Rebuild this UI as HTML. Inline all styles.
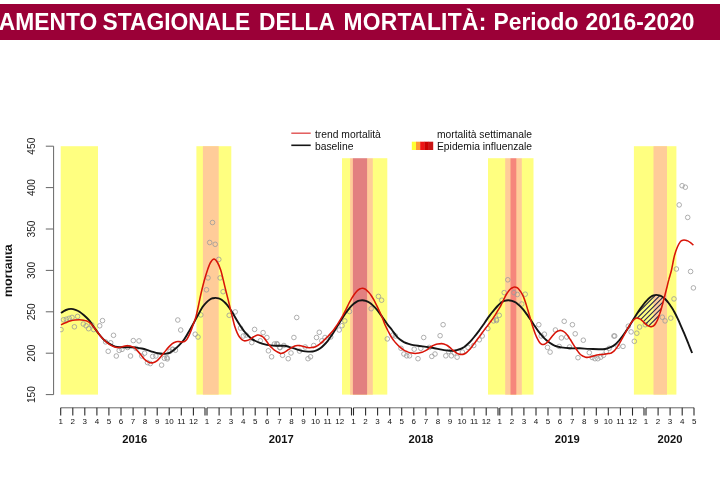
<!DOCTYPE html>
<html lang="it"><head><meta charset="utf-8"><title>Andamento stagionale della mortalità</title>
<style>
html,body{margin:0;padding:0;background:#fff}
body{width:720px;height:477px;position:relative;overflow:hidden;font-family:"Liberation Sans",Arial,sans-serif}
.banner{position:absolute;left:0;top:4.4px;width:720px;height:35.2px;background:#9b0037}
.banner span{position:absolute;top:0;line-height:35.2px;font-size:22.8px;font-weight:bold;color:#fff;white-space:nowrap;transform:scaleY(1.07);transform-origin:50% 50%}
</style></head><body>
<div class="banner">
<span style="left:-1.2px">AMENTO</span>
<span style="left:102.5px">STAGIONALE</span>
<span style="left:259px">DELLA</span>
<span style="left:343.5px;letter-spacing:0.3px">MORTALITÀ:</span>
<span style="left:493.5px">Periodo</span>
<span style="left:585.5px">2016-2020</span>
</div>
<svg width="720" height="477" viewBox="0 0 720 477" style="position:absolute;left:0;top:0">
<rect x="60.7" y="146.2" width="37.3" height="248.4" fill="#ffff80"/>
<rect x="196.4" y="146.2" width="34.9" height="248.4" fill="#ffff80"/>
<rect x="202.9" y="146.2" width="15.8" height="248.4" fill="#ffcc99"/>
<rect x="342.0" y="146.2" width="45.3" height="248.4" fill="#ffff80"/>
<rect x="350.1" y="146.2" width="22.7" height="248.4" fill="#ffcc99"/>
<rect x="352.9" y="146.2" width="14.2" height="248.4" fill="#e28080"/>
<rect x="488.0" y="146.2" width="45.5" height="248.4" fill="#ffff80"/>
<rect x="505.2" y="146.2" width="16.6" height="248.4" fill="#ffcc99"/>
<rect x="510.5" y="146.2" width="5.8" height="248.4" fill="#f6867c"/>
<rect x="633.9" y="146.2" width="42.5" height="248.4" fill="#ffff80"/>
<rect x="653.5" y="146.2" width="13.5" height="248.4" fill="#ffcc99"/>
<rect x="285.0" y="124.0" width="255.0" height="34.2" fill="#ffffff"/>
<defs><clipPath id="pc"><rect x="60.2" y="140" width="650" height="260"/></clipPath></defs>
<g fill="none" stroke="#9a9a9a" stroke-width="0.8" clip-path="url(#pc)">
<circle cx="61.0" cy="329.6" r="2.3"/>
<circle cx="63.5" cy="319.8" r="2.3"/>
<circle cx="66.3" cy="319.2" r="2.3"/>
<circle cx="69.2" cy="318.3" r="2.3"/>
<circle cx="72.0" cy="317.4" r="2.3"/>
<circle cx="77.6" cy="316.4" r="2.3"/>
<circle cx="74.4" cy="326.8" r="2.3"/>
<circle cx="83.3" cy="324.0" r="2.3"/>
<circle cx="86.1" cy="325.8" r="2.3"/>
<circle cx="88.6" cy="328.7" r="2.3"/>
<circle cx="91.8" cy="324.9" r="2.3"/>
<circle cx="93.7" cy="329.6" r="2.3"/>
<circle cx="99.7" cy="325.8" r="2.3"/>
<circle cx="102.5" cy="320.6" r="2.3"/>
<circle cx="105.6" cy="341.9" r="2.3"/>
<circle cx="113.5" cy="335.3" r="2.3"/>
<circle cx="110.7" cy="342.8" r="2.3"/>
<circle cx="108.2" cy="351.3" r="2.3"/>
<circle cx="116.3" cy="356.0" r="2.3"/>
<circle cx="119.2" cy="350.4" r="2.3"/>
<circle cx="122.0" cy="349.4" r="2.3"/>
<circle cx="127.6" cy="347.5" r="2.3"/>
<circle cx="130.5" cy="356.0" r="2.3"/>
<circle cx="133.3" cy="340.6" r="2.3"/>
<circle cx="139.0" cy="340.9" r="2.3"/>
<circle cx="136.1" cy="348.5" r="2.3"/>
<circle cx="141.8" cy="356.0" r="2.3"/>
<circle cx="144.6" cy="353.2" r="2.3"/>
<circle cx="147.5" cy="362.6" r="2.3"/>
<circle cx="150.3" cy="363.6" r="2.3"/>
<circle cx="152.7" cy="356.4" r="2.3"/>
<circle cx="155.9" cy="356.0" r="2.3"/>
<circle cx="161.6" cy="365.1" r="2.3"/>
<circle cx="164.4" cy="358.3" r="2.3"/>
<circle cx="167.3" cy="358.9" r="2.3"/>
<circle cx="170.1" cy="351.3" r="2.3"/>
<circle cx="172.9" cy="349.4" r="2.3"/>
<circle cx="212.5" cy="222.5" r="2.3"/>
<circle cx="209.7" cy="242.5" r="2.3"/>
<circle cx="215.2" cy="244.3" r="2.3"/>
<circle cx="218.8" cy="259.4" r="2.3"/>
<circle cx="166.9" cy="357.7" r="2.3"/>
<circle cx="172.5" cy="349.2" r="2.3"/>
<circle cx="175.4" cy="350.2" r="2.3"/>
<circle cx="177.8" cy="320.0" r="2.3"/>
<circle cx="180.7" cy="330.0" r="2.3"/>
<circle cx="195.2" cy="334.2" r="2.3"/>
<circle cx="198.0" cy="337.0" r="2.3"/>
<circle cx="200.8" cy="314.9" r="2.3"/>
<circle cx="206.5" cy="289.8" r="2.3"/>
<circle cx="208.0" cy="277.9" r="2.3"/>
<circle cx="220.1" cy="277.9" r="2.3"/>
<circle cx="223.1" cy="291.7" r="2.3"/>
<circle cx="229.2" cy="315.3" r="2.3"/>
<circle cx="235.2" cy="311.9" r="2.3"/>
<circle cx="240.5" cy="328.1" r="2.3"/>
<circle cx="243.3" cy="336.0" r="2.3"/>
<circle cx="246.1" cy="335.1" r="2.3"/>
<circle cx="251.8" cy="342.6" r="2.3"/>
<circle cx="254.6" cy="329.4" r="2.3"/>
<circle cx="260.3" cy="340.8" r="2.3"/>
<circle cx="263.1" cy="332.6" r="2.3"/>
<circle cx="266.9" cy="337.5" r="2.3"/>
<circle cx="268.4" cy="350.8" r="2.3"/>
<circle cx="271.6" cy="356.8" r="2.3"/>
<circle cx="274.4" cy="344.0" r="2.3"/>
<circle cx="277.3" cy="344.5" r="2.3"/>
<circle cx="280.1" cy="347.7" r="2.3"/>
<circle cx="283.9" cy="345.5" r="2.3"/>
<circle cx="279.7" cy="347.4" r="2.3"/>
<circle cx="276.9" cy="343.6" r="2.3"/>
<circle cx="282.5" cy="355.3" r="2.3"/>
<circle cx="288.2" cy="358.7" r="2.3"/>
<circle cx="291.0" cy="353.0" r="2.3"/>
<circle cx="293.9" cy="337.5" r="2.3"/>
<circle cx="296.7" cy="317.5" r="2.3"/>
<circle cx="299.5" cy="351.1" r="2.3"/>
<circle cx="305.2" cy="347.0" r="2.3"/>
<circle cx="308.0" cy="358.7" r="2.3"/>
<circle cx="310.5" cy="356.8" r="2.3"/>
<circle cx="313.7" cy="345.5" r="2.3"/>
<circle cx="316.5" cy="337.5" r="2.3"/>
<circle cx="319.3" cy="332.3" r="2.3"/>
<circle cx="321.8" cy="340.8" r="2.3"/>
<circle cx="325.0" cy="337.5" r="2.3"/>
<circle cx="330.7" cy="337.0" r="2.3"/>
<circle cx="339.2" cy="330.0" r="2.3"/>
<circle cx="342.0" cy="325.7" r="2.3"/>
<circle cx="344.8" cy="320.9" r="2.3"/>
<circle cx="349.5" cy="311.5" r="2.3"/>
<circle cx="371.2" cy="308.7" r="2.3"/>
<circle cx="378.4" cy="296.4" r="2.3"/>
<circle cx="381.6" cy="300.2" r="2.3"/>
<circle cx="387.3" cy="338.9" r="2.3"/>
<circle cx="392.9" cy="335.1" r="2.3"/>
<circle cx="395.4" cy="336.0" r="2.3"/>
<circle cx="401.0" cy="348.3" r="2.3"/>
<circle cx="403.9" cy="354.0" r="2.3"/>
<circle cx="406.7" cy="355.8" r="2.3"/>
<circle cx="409.5" cy="355.8" r="2.3"/>
<circle cx="414.2" cy="349.2" r="2.3"/>
<circle cx="418.0" cy="358.7" r="2.3"/>
<circle cx="420.8" cy="348.3" r="2.3"/>
<circle cx="423.7" cy="337.5" r="2.3"/>
<circle cx="429.3" cy="347.4" r="2.3"/>
<circle cx="431.8" cy="356.4" r="2.3"/>
<circle cx="435.0" cy="354.0" r="2.3"/>
<circle cx="440.1" cy="335.7" r="2.3"/>
<circle cx="443.1" cy="324.7" r="2.3"/>
<circle cx="445.8" cy="355.8" r="2.3"/>
<circle cx="448.6" cy="351.5" r="2.3"/>
<circle cx="451.4" cy="355.8" r="2.3"/>
<circle cx="454.2" cy="353.0" r="2.3"/>
<circle cx="457.1" cy="357.2" r="2.3"/>
<circle cx="462.4" cy="352.1" r="2.3"/>
<circle cx="468.0" cy="347.4" r="2.3"/>
<circle cx="473.7" cy="345.5" r="2.3"/>
<circle cx="479.3" cy="339.8" r="2.3"/>
<circle cx="482.2" cy="336.0" r="2.3"/>
<circle cx="487.8" cy="328.5" r="2.3"/>
<circle cx="493.5" cy="320.9" r="2.3"/>
<circle cx="496.3" cy="319.4" r="2.3"/>
<circle cx="499.2" cy="315.3" r="2.3"/>
<circle cx="502.0" cy="300.2" r="2.3"/>
<circle cx="504.2" cy="292.6" r="2.3"/>
<circle cx="496.5" cy="320.6" r="2.3"/>
<circle cx="507.8" cy="279.8" r="2.3"/>
<circle cx="513.9" cy="292.6" r="2.3"/>
<circle cx="517.3" cy="294.5" r="2.3"/>
<circle cx="521.8" cy="304.0" r="2.3"/>
<circle cx="525.2" cy="294.2" r="2.3"/>
<circle cx="538.8" cy="324.7" r="2.3"/>
<circle cx="541.2" cy="336.0" r="2.3"/>
<circle cx="544.4" cy="334.2" r="2.3"/>
<circle cx="547.5" cy="347.4" r="2.3"/>
<circle cx="550.1" cy="352.1" r="2.3"/>
<circle cx="555.4" cy="330.0" r="2.3"/>
<circle cx="559.2" cy="346.4" r="2.3"/>
<circle cx="561.4" cy="337.9" r="2.3"/>
<circle cx="564.2" cy="321.3" r="2.3"/>
<circle cx="566.7" cy="337.0" r="2.3"/>
<circle cx="569.5" cy="347.0" r="2.3"/>
<circle cx="572.4" cy="324.7" r="2.3"/>
<circle cx="575.2" cy="333.8" r="2.3"/>
<circle cx="578.0" cy="357.7" r="2.3"/>
<circle cx="583.3" cy="340.2" r="2.3"/>
<circle cx="589.3" cy="352.6" r="2.3"/>
<circle cx="592.2" cy="357.5" r="2.3"/>
<circle cx="595.0" cy="358.7" r="2.3"/>
<circle cx="597.8" cy="358.7" r="2.3"/>
<circle cx="600.7" cy="357.2" r="2.3"/>
<circle cx="603.5" cy="355.3" r="2.3"/>
<circle cx="609.2" cy="348.3" r="2.3"/>
<circle cx="613.9" cy="336.0" r="2.3"/>
<circle cx="606.3" cy="351.5" r="2.3"/>
<circle cx="614.7" cy="336.0" r="2.3"/>
<circle cx="617.9" cy="346.4" r="2.3"/>
<circle cx="623.0" cy="346.4" r="2.3"/>
<circle cx="628.3" cy="326.2" r="2.3"/>
<circle cx="631.1" cy="331.9" r="2.3"/>
<circle cx="634.3" cy="341.3" r="2.3"/>
<circle cx="636.8" cy="333.2" r="2.3"/>
<circle cx="639.6" cy="327.0" r="2.3"/>
<circle cx="645.3" cy="324.7" r="2.3"/>
<circle cx="665.1" cy="320.9" r="2.3"/>
<circle cx="662.3" cy="317.2" r="2.3"/>
<circle cx="670.8" cy="318.1" r="2.3"/>
<circle cx="674.0" cy="298.9" r="2.3"/>
<circle cx="676.4" cy="269.0" r="2.3"/>
<circle cx="690.6" cy="271.5" r="2.3"/>
<circle cx="693.4" cy="287.9" r="2.3"/>
<circle cx="682.1" cy="185.7" r="2.3"/>
<circle cx="685.3" cy="187.2" r="2.3"/>
<circle cx="679.2" cy="204.9" r="2.3"/>
<circle cx="687.7" cy="217.4" r="2.3"/>
</g>
<defs><clipPath id="hc"><polygon points="636.8,314.0 637.3,313.1 637.8,312.4 638.3,311.6 638.8,310.9 639.3,310.2 639.8,309.5 640.3,308.7 640.8,308.0 641.3,307.3 641.8,306.6 642.3,306.0 642.8,305.3 643.3,304.7 643.8,304.0 644.3,303.4 644.8,302.7 645.3,302.1 645.8,301.6 646.3,301.1 646.8,300.5 647.3,300.0 647.8,299.5 648.3,299.0 648.8,298.6 649.3,298.2 649.8,297.7 650.3,297.3 650.8,296.9 651.3,296.6 651.8,296.3 652.3,296.1 652.8,295.8 653.3,295.6 653.8,295.4 654.3,295.3 654.8,295.2 655.3,295.1 655.8,295.0 656.3,294.9 656.8,295.0 657.3,295.1 657.8,295.2 658.3,295.2 658.8,295.3 659.3,295.4 659.8,295.7 660.3,295.9 660.8,296.1 661.3,296.3 661.8,296.6 662.3,296.8 662.8,297.2 663.3,297.6 663.8,298.0 664.3,298.4 664.3,297.6 663.8,299.5 663.3,301.4 662.8,303.3 662.3,305.1 661.8,306.9 661.3,308.7 660.8,310.3 660.3,311.9 659.8,313.5 659.3,315.1 658.8,316.4 658.3,317.8 657.8,319.2 657.3,320.4 656.8,321.3 656.3,322.2 655.8,323.1 655.3,323.9 654.8,324.5 654.3,325.1 653.8,325.7 653.3,325.9 652.8,326.2 652.3,326.4 651.8,326.6 651.3,326.6 650.8,326.6 650.3,326.6 649.8,326.5 649.3,326.3 648.8,326.1 648.3,325.9 647.8,325.7 647.3,325.4 646.8,325.0 646.3,324.6 645.8,324.2 645.3,323.8 644.8,323.3 644.3,322.8 643.8,322.3 643.3,321.8 642.8,321.3 642.3,320.9 641.8,320.4 641.3,320.0 640.8,319.6 640.3,319.2 639.8,319.0 639.3,318.7 638.8,318.5 638.3,318.3 637.8,318.3 637.3,318.2 636.8,318.1"/></clipPath></defs>
<g clip-path="url(#hc)" stroke="#26264e" stroke-width="1.1">
<line x1="630.0" y1="311.0" x2="670.0" y2="271.0"/>
<line x1="630.0" y1="315.8" x2="670.0" y2="275.8"/>
<line x1="630.0" y1="320.6" x2="670.0" y2="280.6"/>
<line x1="630.0" y1="325.4" x2="670.0" y2="285.4"/>
<line x1="630.0" y1="330.2" x2="670.0" y2="290.2"/>
<line x1="630.0" y1="335.0" x2="670.0" y2="295.0"/>
<line x1="630.0" y1="339.8" x2="670.0" y2="299.8"/>
<line x1="630.0" y1="344.6" x2="670.0" y2="304.6"/>
<line x1="630.0" y1="349.4" x2="670.0" y2="309.4"/>
<line x1="630.0" y1="354.2" x2="670.0" y2="314.2"/>
<line x1="630.0" y1="359.0" x2="670.0" y2="319.0"/>
<line x1="630.0" y1="363.8" x2="670.0" y2="323.8"/>
<line x1="630.0" y1="368.6" x2="670.0" y2="328.6"/>
<line x1="630.0" y1="373.4" x2="670.0" y2="333.4"/>
<line x1="630.0" y1="378.2" x2="670.0" y2="338.2"/>
<line x1="630.0" y1="383.0" x2="670.0" y2="343.0"/>
<line x1="630.0" y1="387.8" x2="670.0" y2="347.8"/>
<line x1="630.0" y1="392.6" x2="670.0" y2="352.6"/>
<line x1="630.0" y1="397.4" x2="670.0" y2="357.4"/>
<line x1="630.0" y1="402.2" x2="670.0" y2="362.2"/>
<line x1="630.0" y1="407.0" x2="670.0" y2="367.0"/>
<line x1="630.0" y1="411.8" x2="670.0" y2="371.8"/>
<line x1="630.0" y1="416.6" x2="670.0" y2="376.6"/>
<line x1="630.0" y1="421.4" x2="670.0" y2="381.4"/>
<line x1="630.0" y1="426.2" x2="670.0" y2="386.2"/>
<line x1="630.0" y1="431.0" x2="670.0" y2="391.0"/>
<line x1="630.0" y1="435.8" x2="670.0" y2="395.8"/>
<line x1="630.0" y1="440.6" x2="670.0" y2="400.6"/>
<line x1="630.0" y1="445.4" x2="670.0" y2="405.4"/>
<line x1="630.0" y1="450.2" x2="670.0" y2="410.2"/>
<line x1="630.0" y1="455.0" x2="670.0" y2="415.0"/>
<line x1="630.0" y1="459.8" x2="670.0" y2="419.8"/>
<line x1="630.0" y1="464.6" x2="670.0" y2="424.6"/>
<line x1="630.0" y1="469.4" x2="670.0" y2="429.4"/>
<line x1="630.0" y1="474.2" x2="670.0" y2="434.2"/>
<line x1="630.0" y1="479.0" x2="670.0" y2="439.0"/>
<line x1="630.0" y1="483.8" x2="670.0" y2="443.8"/>
<line x1="630.0" y1="488.6" x2="670.0" y2="448.6"/>
<line x1="630.0" y1="493.4" x2="670.0" y2="453.4"/>
<line x1="630.0" y1="498.2" x2="670.0" y2="458.2"/>
</g>
<path d="M61.0 313.0C61.8 312.5 64.3 310.7 66.0 310.0C67.7 309.3 69.4 308.9 71.0 308.9C72.6 308.9 74.1 309.3 75.5 309.8C76.9 310.3 78.1 310.8 79.5 311.7C80.9 312.6 82.4 313.9 84.0 315.3C85.6 316.7 87.4 318.3 89.0 320.2C90.6 322.1 91.9 324.3 93.5 326.5C95.1 328.7 96.8 331.3 98.4 333.4C100.0 335.4 101.4 337.2 103.0 338.8C104.6 340.4 106.2 341.7 107.8 342.8C109.4 343.9 110.9 344.7 112.5 345.4C114.1 346.1 115.4 346.7 117.3 347.0C119.2 347.3 121.8 347.3 124.0 347.3C126.2 347.3 128.5 347.1 130.5 347.2C132.5 347.2 134.1 347.4 136.0 347.6C137.9 347.8 139.9 348.1 141.8 348.5C143.7 348.9 145.6 349.5 147.5 350.1C149.4 350.7 151.3 351.4 153.1 351.9C154.8 352.4 156.4 352.9 158.0 353.2C159.6 353.5 161.1 353.7 162.5 353.8C163.9 353.9 165.2 353.8 166.5 353.6C167.8 353.4 168.7 353.3 170.0 352.6C171.3 351.9 172.9 350.8 174.4 349.6C175.9 348.4 177.4 347.0 179.0 345.4C180.6 343.8 182.3 342.0 183.9 339.8C185.5 337.6 186.9 335.0 188.5 332.3C190.1 329.6 191.7 326.7 193.3 323.8C194.9 320.9 196.4 317.8 198.0 315.0C199.6 312.2 201.3 308.9 202.7 306.8C204.1 304.7 205.2 303.6 206.5 302.3C207.8 301.0 209.2 299.9 210.3 299.2C211.4 298.5 212.1 298.4 213.0 298.2C213.9 298.0 214.7 297.9 215.6 297.9C216.5 297.9 217.6 298.1 218.6 298.4C219.6 298.7 220.5 299.0 221.6 299.8C222.7 300.6 224.1 301.7 225.4 303.0C226.7 304.3 227.9 305.9 229.2 307.7C230.5 309.5 231.8 311.6 233.0 313.6C234.2 315.7 235.4 317.9 236.7 320.0C237.9 322.1 239.2 324.1 240.5 326.0C241.8 327.9 242.9 329.7 244.2 331.3C245.4 332.9 246.7 334.2 248.0 335.5C249.3 336.8 250.6 338.0 251.8 338.9C253.1 339.8 254.2 340.4 255.5 341.0C256.8 341.6 257.9 342.1 259.3 342.6C260.7 343.1 262.4 343.7 264.0 344.1C265.6 344.5 267.2 344.9 268.8 345.1C270.4 345.4 271.9 345.5 273.5 345.6C275.1 345.7 276.4 345.8 278.2 345.8C280.0 345.8 282.6 345.6 284.4 345.8C286.2 346.0 287.4 346.4 289.0 346.8C290.6 347.2 292.3 347.8 293.9 348.3C295.5 348.8 296.9 349.4 298.5 349.9C300.1 350.4 301.7 350.8 303.3 351.1C304.9 351.4 306.4 351.5 308.0 351.6C309.6 351.7 311.3 351.7 312.7 351.5C314.1 351.3 315.2 350.9 316.5 350.4C317.8 349.9 319.1 349.2 320.3 348.3C321.6 347.4 322.8 346.2 324.0 345.0C325.2 343.8 326.5 342.4 327.8 340.8C329.1 339.2 330.3 337.3 331.6 335.4C332.9 333.5 334.1 331.4 335.4 329.4C336.7 327.4 337.9 325.3 339.2 323.3C340.4 321.3 341.6 319.1 342.9 317.2C344.1 315.2 345.4 313.3 346.7 311.6C348.0 309.9 349.4 308.1 350.5 306.8C351.6 305.6 352.4 304.9 353.3 304.1C354.2 303.3 355.1 302.7 356.1 302.1C357.1 301.5 358.2 301.0 359.2 300.7C360.2 300.4 361.1 300.2 362.2 300.2C363.3 300.2 364.6 300.4 365.8 300.8C367.0 301.2 368.1 301.7 369.3 302.5C370.5 303.3 371.8 304.4 373.1 305.6C374.4 306.8 375.6 308.1 376.9 309.6C378.1 311.1 379.4 312.9 380.6 314.6C381.9 316.3 383.1 318.2 384.4 320.0C385.7 321.8 386.9 323.6 388.2 325.3C389.5 327.0 390.6 328.2 392.0 330.0C393.4 331.8 395.0 334.4 396.3 336.0C397.6 337.6 398.7 338.6 400.0 339.6C401.3 340.6 402.5 341.4 403.9 342.1C405.3 342.8 407.0 343.4 408.6 343.9C410.2 344.4 411.7 344.8 413.3 345.1C414.9 345.4 416.4 345.6 418.0 345.8C419.6 346.0 420.3 346.1 422.7 346.4C425.1 346.7 429.0 347.2 432.2 347.7C435.4 348.2 439.2 349.2 441.6 349.6C444.0 350.1 444.7 350.2 446.3 350.4C447.9 350.6 449.7 350.7 451.0 350.8C452.3 350.9 453.1 350.9 454.0 350.8C454.9 350.7 455.6 350.5 456.7 350.2C457.8 349.9 459.2 349.5 460.5 349.0C461.8 348.5 462.9 347.9 464.2 347.0C465.4 346.1 466.7 345.0 468.0 343.8C469.3 342.6 470.6 341.2 471.8 339.8C473.1 338.4 474.2 336.9 475.5 335.3C476.8 333.7 478.0 332.1 479.3 330.4C480.6 328.7 481.8 326.8 483.1 325.0C484.4 323.2 485.6 321.2 486.9 319.4C488.1 317.6 489.4 315.9 490.6 314.3C491.9 312.7 493.2 311.0 494.4 309.6C495.6 308.2 496.6 307.1 497.6 306.0C498.7 304.9 499.6 303.9 500.7 303.0C501.8 302.1 503.1 301.4 504.4 300.9C505.6 300.4 506.9 300.2 508.2 300.2C509.5 300.2 510.7 300.4 512.0 300.8C513.3 301.2 514.5 301.7 515.8 302.5C517.0 303.3 518.2 304.4 519.5 305.6C520.8 306.8 522.0 308.1 523.3 309.6C524.5 311.1 525.8 312.9 527.0 314.6C528.2 316.3 529.5 318.1 530.8 320.0C532.1 321.9 533.3 323.9 534.6 325.8C535.9 327.7 537.1 329.6 538.4 331.3C539.7 333.0 541.0 334.6 542.2 336.0C543.5 337.4 544.6 338.7 545.9 339.8C547.1 340.9 548.4 341.9 549.7 342.8C551.0 343.7 552.2 344.5 553.5 345.1C554.8 345.7 556.0 346.1 557.2 346.5C558.5 346.9 558.8 347.1 561.0 347.4C563.2 347.7 567.4 348.1 570.5 348.3C573.6 348.5 576.8 348.2 579.9 348.3C583.0 348.4 586.1 348.8 589.3 348.9C592.4 349.0 596.5 349.1 598.8 349.2C601.1 349.2 601.5 349.3 603.0 349.2C604.5 349.1 606.1 348.7 607.5 348.3C608.9 347.9 610.0 347.5 611.3 346.9C612.6 346.3 613.9 345.5 615.1 344.5C616.4 343.5 617.5 342.2 618.8 340.8C620.0 339.4 621.3 337.7 622.6 336.0C623.9 334.3 625.1 332.5 626.4 330.6C627.7 328.7 628.9 326.7 630.2 324.7C631.5 322.7 632.8 320.5 634.0 318.5C635.2 316.5 636.5 314.4 637.7 312.5C639.0 310.6 640.2 308.7 641.5 307.0C642.8 305.3 644.2 303.4 645.3 302.1C646.4 300.8 647.2 300.1 648.1 299.2C649.0 298.3 650.0 297.4 650.9 296.8C651.8 296.2 652.7 295.7 653.6 295.4C654.5 295.1 655.3 294.9 656.2 294.9C657.1 294.9 658.2 295.1 659.2 295.4C660.2 295.7 661.3 296.2 662.3 296.8C663.3 297.4 664.2 298.1 665.1 299.0C666.0 299.9 667.0 300.9 667.9 302.1C668.8 303.3 669.8 304.6 670.7 306.0C671.7 307.4 672.7 308.9 673.6 310.6C674.5 312.3 675.5 314.1 676.4 316.0C677.3 317.9 678.3 319.8 679.2 321.9C680.1 323.9 681.0 326.1 682.0 328.3C683.0 330.5 683.8 332.5 684.9 335.1C686.0 337.7 687.3 341.0 688.5 344.0C689.7 347.0 691.5 351.5 692.1 353.0" fill="none" stroke="#151515" stroke-width="1.9" stroke-linejoin="round"/>
<path d="M61.0 324.9C61.8 324.5 64.0 323.4 65.5 322.8C67.0 322.2 68.4 321.6 70.0 321.1C71.6 320.7 73.4 320.3 75.0 320.1C76.6 319.9 78.1 319.8 79.5 319.8C80.9 319.8 82.2 320.0 83.5 320.2C84.8 320.4 85.9 320.7 87.0 321.1C88.1 321.6 89.0 322.1 90.0 322.9C91.0 323.7 91.5 324.3 92.7 325.8C94.0 327.3 95.9 329.9 97.5 332.0C99.1 334.1 100.6 336.3 102.2 338.1C103.8 339.9 105.4 341.3 107.0 342.6C108.6 343.9 110.2 344.9 111.6 345.7C113.0 346.5 114.2 346.9 115.5 347.2C116.8 347.5 118.0 347.6 119.2 347.5C120.5 347.4 121.8 346.7 123.0 346.4C124.2 346.1 125.5 345.8 126.7 345.7C128.0 345.6 129.2 345.8 130.5 346.1C131.8 346.4 132.9 346.6 134.2 347.5C135.4 348.4 136.7 350.0 138.0 351.4C139.3 352.8 140.6 354.5 141.8 356.0C143.1 357.5 144.2 359.1 145.5 360.2C146.8 361.3 148.1 362.2 149.3 362.6C150.6 363.0 151.7 363.0 153.0 362.7C154.3 362.4 155.6 361.8 156.9 360.8C158.2 359.9 159.3 358.4 160.6 357.0C161.8 355.6 163.1 353.9 164.4 352.3C165.7 350.7 166.9 349.0 168.2 347.6C169.5 346.2 170.7 344.8 172.0 343.8C173.3 342.8 175.1 342.2 176.3 341.8C177.5 341.4 178.1 341.6 179.0 341.6C179.9 341.6 181.1 341.9 182.0 341.9C182.9 341.9 183.7 341.9 184.5 341.5C185.3 341.1 185.9 340.6 186.7 339.6C187.4 338.6 188.2 337.1 189.0 335.4C189.8 333.7 190.6 331.7 191.4 329.6C192.2 327.5 193.0 325.2 193.8 323.0C194.6 320.8 195.3 319.1 196.1 316.2C196.9 313.3 197.7 309.1 198.5 305.5C199.3 301.9 199.9 298.5 200.8 294.5C201.7 290.5 202.9 285.6 204.0 281.5C205.1 277.4 206.4 273.2 207.5 270.0C208.6 266.8 209.4 264.4 210.5 262.5C211.6 260.6 212.8 258.9 214.0 258.9C215.2 258.9 216.4 260.6 217.5 262.5C218.6 264.4 219.8 267.3 220.7 270.0C221.6 272.7 222.2 275.8 223.0 278.9C223.8 282.0 224.6 285.6 225.4 288.9C226.2 292.1 227.0 295.3 227.8 298.4C228.6 301.5 229.3 304.5 230.1 307.7C230.9 310.9 231.7 314.4 232.5 317.5C233.3 320.6 234.0 324.1 234.8 326.6C235.6 329.2 236.4 331.1 237.2 332.8C238.0 334.5 238.7 335.9 239.5 337.0C240.3 338.1 241.1 339.0 241.9 339.6C242.7 340.2 243.3 340.6 244.2 340.8C245.0 341.0 246.1 340.8 247.0 340.6C247.9 340.4 248.8 340.0 249.9 339.4C251.0 338.8 252.4 337.5 253.7 336.8C255.0 336.1 256.4 335.3 257.5 335.1C258.6 334.9 259.4 335.1 260.3 335.4C261.2 335.7 262.2 336.1 263.1 337.0C264.1 337.9 265.1 339.2 266.0 340.5C266.9 341.8 267.9 343.3 268.8 344.5C269.7 345.7 270.7 346.7 271.6 347.6C272.5 348.6 273.4 349.5 274.4 350.2C275.4 350.9 276.4 351.5 277.5 352.0C278.6 352.5 279.7 353.3 280.7 353.4C281.7 353.5 282.6 353.1 283.5 352.7C284.4 352.3 285.4 351.7 286.3 351.1C287.2 350.5 288.2 349.8 289.2 349.2C290.1 348.6 291.1 347.9 292.0 347.4C292.9 346.9 293.9 346.3 294.8 346.0C295.7 345.7 296.7 345.6 297.6 345.5C298.6 345.4 299.6 345.6 300.5 345.7C301.4 345.8 302.4 346.1 303.3 346.4C304.2 346.6 305.2 347.0 306.2 347.2C307.1 347.4 308.1 347.6 309.0 347.7C309.9 347.8 310.9 347.7 311.8 347.6C312.7 347.5 313.7 347.3 314.6 347.0C315.6 346.7 316.6 346.2 317.5 345.6C318.4 345.0 319.4 344.4 320.3 343.6C321.2 342.9 322.2 342.0 323.1 341.1C324.0 340.2 324.9 339.2 325.9 338.3C326.8 337.4 327.9 336.4 328.8 335.4C329.8 334.4 330.7 333.4 331.6 332.3C332.6 331.2 333.6 330.0 334.5 328.7C335.4 327.4 336.4 326.1 337.3 324.7C338.2 323.3 339.2 321.8 340.1 320.2C341.0 318.6 341.9 317.0 342.9 315.3C343.8 313.6 344.9 311.7 345.8 309.8C346.8 307.9 347.7 305.8 348.6 304.0C349.5 302.2 350.5 300.5 351.4 298.9C352.3 297.3 353.3 295.7 354.2 294.5C355.1 293.3 355.8 292.4 356.6 291.5C357.4 290.6 358.3 289.9 359.0 289.4C359.7 288.9 360.1 288.8 360.6 288.6C361.1 288.4 361.6 288.3 362.2 288.3C362.8 288.3 363.3 288.4 363.9 288.6C364.5 288.8 364.9 288.8 365.6 289.4C366.4 290.0 367.5 291.0 368.4 292.0C369.3 293.0 370.3 294.1 371.2 295.5C372.1 296.9 373.1 298.5 374.0 300.2C374.9 301.9 375.9 303.9 376.9 305.8C377.8 307.7 378.8 309.8 379.7 311.8C380.6 313.9 381.6 316.0 382.5 318.1C383.4 320.2 384.1 322.6 385.0 324.7C385.9 326.8 386.9 328.6 387.8 330.5C388.8 332.4 389.8 334.4 390.7 336.0C391.6 337.6 392.6 338.8 393.5 340.1C394.4 341.4 395.2 342.4 396.3 343.6C397.4 344.8 398.7 346.1 400.0 347.2C401.3 348.3 402.6 349.4 403.9 350.2C405.2 351.0 406.4 351.4 407.6 351.9C408.9 352.4 410.1 352.8 411.4 353.0C412.7 353.2 413.9 353.4 415.2 353.4C416.5 353.4 417.8 353.2 419.0 353.0C420.2 352.8 421.4 352.5 422.7 352.0C423.9 351.5 425.4 350.9 426.5 350.2C427.6 349.5 428.4 348.7 429.3 348.0C430.2 347.3 431.2 346.6 432.2 346.0C433.1 345.4 434.1 345.0 435.0 344.7C435.9 344.4 436.7 344.2 437.8 344.0C438.9 343.8 440.5 343.6 441.6 343.6C442.7 343.6 443.4 343.9 444.4 344.2C445.3 344.5 446.4 344.9 447.3 345.5C448.2 346.1 449.2 346.9 450.1 347.7C451.0 348.5 451.9 349.4 452.9 350.2C453.8 351.0 454.9 351.9 455.8 352.5C456.8 353.1 457.7 353.7 458.6 354.0C459.5 354.3 460.5 354.5 461.4 354.5C462.3 354.5 463.3 354.4 464.2 354.0C465.1 353.6 466.1 352.9 467.0 352.1C467.9 351.3 468.9 350.3 469.9 349.2C470.8 348.1 471.8 346.9 472.7 345.6C473.6 344.4 474.7 343.0 475.6 341.7C476.6 340.4 477.5 339.2 478.4 338.0C479.3 336.8 480.3 335.5 481.2 334.2C482.1 332.9 483.1 331.7 484.0 330.4C484.9 329.1 485.9 327.9 486.9 326.6C487.8 325.4 488.8 324.1 489.7 322.9C490.6 321.6 491.6 320.4 492.5 319.1C493.4 317.8 494.1 316.7 495.0 315.3C495.9 313.9 496.9 312.2 497.8 310.6C498.8 309.0 499.8 307.6 500.7 305.8C501.6 304.0 502.6 301.9 503.5 300.0C504.4 298.1 505.4 296.0 506.3 294.5C507.2 293.0 507.9 292.0 508.7 291.0C509.5 290.0 510.3 289.1 511.0 288.5C511.7 287.9 512.3 287.6 512.9 287.4C513.5 287.1 514.2 287.0 514.8 287.0C515.4 287.0 516.1 287.2 516.7 287.5C517.3 287.8 517.9 288.1 518.6 288.9C519.3 289.7 520.2 290.9 521.0 292.1C521.8 293.4 522.5 294.6 523.3 296.4C524.1 298.2 524.9 300.6 525.7 303.0C526.5 305.4 527.2 308.0 528.0 310.6C528.8 313.2 529.6 316.0 530.4 318.7C531.2 321.4 531.9 324.1 532.7 326.6C533.5 329.1 534.3 331.4 535.1 333.5C535.9 335.6 536.7 337.4 537.5 338.9C538.3 340.4 539.0 341.8 539.8 342.7C540.6 343.6 541.4 344.2 542.2 344.5C543.0 344.8 543.7 344.5 544.5 344.2C545.3 343.9 546.1 343.3 546.9 342.6C547.7 341.9 548.4 340.9 549.2 340.0C550.0 339.1 550.8 338.0 551.6 337.0C552.4 336.0 553.2 335.1 554.0 334.2C554.8 333.3 555.5 332.5 556.3 331.9C557.1 331.3 557.9 330.9 558.7 330.7C559.5 330.4 560.2 330.3 561.0 330.4C561.8 330.5 562.6 330.8 563.4 331.3C564.2 331.8 565.0 332.4 565.8 333.2C566.6 334.0 567.3 335.1 568.1 336.2C568.9 337.3 569.7 338.6 570.5 339.8C571.3 341.0 572.0 342.3 572.8 343.6C573.6 344.9 574.4 346.2 575.2 347.4C576.0 348.6 576.7 349.8 577.5 350.9C578.3 352.0 579.0 353.1 579.9 354.0C580.8 354.9 581.8 355.5 582.7 356.0C583.7 356.5 584.7 357.0 585.6 357.2C586.5 357.4 587.5 357.4 588.4 357.3C589.3 357.2 590.3 357.1 591.2 356.8C592.1 356.6 593.0 356.1 594.0 355.8C595.0 355.5 595.9 355.1 596.9 354.9C597.9 354.7 598.8 354.7 599.7 354.6C600.6 354.5 601.5 354.6 602.5 354.5C603.5 354.4 604.7 354.1 605.7 354.0C606.7 353.9 607.6 353.8 608.5 353.6C609.4 353.4 610.3 353.5 611.3 353.0C612.2 352.5 613.2 351.7 614.2 350.8C615.2 349.9 616.1 348.7 617.0 347.4C617.9 346.1 618.9 344.5 619.8 342.9C620.7 341.3 621.6 339.6 622.6 337.9C623.6 336.2 624.5 334.3 625.5 332.6C626.5 330.9 627.4 329.0 628.3 327.5C629.1 326.0 629.8 324.8 630.6 323.6C631.4 322.5 632.3 321.4 633.0 320.6C633.7 319.8 634.3 319.2 634.9 318.8C635.5 318.4 636.2 318.2 636.8 318.1C637.4 318.0 638.1 318.2 638.7 318.4C639.3 318.6 639.9 318.9 640.6 319.4C641.3 319.9 642.2 320.8 643.0 321.5C643.8 322.2 644.5 323.1 645.3 323.8C646.1 324.5 646.8 325.1 647.6 325.6C648.4 326.1 649.3 326.4 650.0 326.6C650.7 326.8 651.3 326.8 651.9 326.6C652.5 326.5 653.2 326.2 653.8 325.7C654.4 325.2 655.0 324.4 655.6 323.5C656.2 322.6 656.9 321.4 657.5 320.0C658.1 318.6 658.8 316.7 659.4 314.8C660.0 312.9 660.7 310.9 661.3 308.7C661.9 306.5 662.6 304.2 663.2 301.8C663.8 299.4 664.5 297.0 665.1 294.5C665.7 292.0 666.4 289.5 667.0 287.0C667.6 284.5 668.1 282.2 668.9 279.4C669.6 276.6 670.6 274.0 671.5 270.0C672.4 266.0 673.5 259.3 674.5 255.5C675.5 251.7 676.4 249.3 677.4 247.0C678.4 244.7 679.4 243.0 680.2 241.9C681.0 240.8 681.4 240.8 682.0 240.5C682.6 240.2 683.4 240.0 684.0 240.0C684.6 240.0 685.2 240.2 685.8 240.3C686.4 240.5 686.9 240.5 687.7 240.9C688.5 241.3 689.5 242.0 690.5 242.7C691.5 243.4 692.9 244.7 693.4 245.1" fill="none" stroke="#d81408" stroke-width="1.55" stroke-linejoin="round"/>
<g stroke="#666" stroke-width="1" fill="none">
<path d="M53.6 146.2V394.6"/>
<path d="M45.8 394.6H53.6"/>
<path d="M45.8 353.2H53.6"/>
<path d="M45.8 311.8H53.6"/>
<path d="M45.8 270.4H53.6"/>
<path d="M45.8 229.0H53.6"/>
<path d="M45.8 187.6H53.6"/>
<path d="M45.8 146.2H53.6"/>
<path d="M60.7 407.8H205.0"/>
<path d="M60.7 407.8V415.6M205.0 407.8V415.6" stroke="#2a2a2a" stroke-width="1.1"/>
<path d="M72.8 407.8V415.6" stroke="#2a2a2a" stroke-width="1.1"/>
<path d="M84.8 407.8V415.6" stroke="#2a2a2a" stroke-width="1.1"/>
<path d="M96.9 407.8V415.6" stroke="#2a2a2a" stroke-width="1.1"/>
<path d="M108.9 407.8V415.6" stroke="#2a2a2a" stroke-width="1.1"/>
<path d="M121.0 407.8V415.6" stroke="#2a2a2a" stroke-width="1.1"/>
<path d="M133.1 407.8V415.6" stroke="#2a2a2a" stroke-width="1.1"/>
<path d="M145.1 407.8V415.6" stroke="#2a2a2a" stroke-width="1.1"/>
<path d="M157.2 407.8V415.6" stroke="#2a2a2a" stroke-width="1.1"/>
<path d="M169.2 407.8V415.6" stroke="#2a2a2a" stroke-width="1.1"/>
<path d="M181.3 407.8V415.6" stroke="#2a2a2a" stroke-width="1.1"/>
<path d="M193.4 407.8V415.6" stroke="#2a2a2a" stroke-width="1.1"/>
<path d="M207.0 407.8H351.5"/>
<path d="M207.0 407.8V415.6M351.5 407.8V415.6" stroke="#2a2a2a" stroke-width="1.1"/>
<path d="M219.1 407.8V415.6" stroke="#2a2a2a" stroke-width="1.1"/>
<path d="M231.1 407.8V415.6" stroke="#2a2a2a" stroke-width="1.1"/>
<path d="M243.2 407.8V415.6" stroke="#2a2a2a" stroke-width="1.1"/>
<path d="M255.2 407.8V415.6" stroke="#2a2a2a" stroke-width="1.1"/>
<path d="M267.3 407.8V415.6" stroke="#2a2a2a" stroke-width="1.1"/>
<path d="M279.4 407.8V415.6" stroke="#2a2a2a" stroke-width="1.1"/>
<path d="M291.4 407.8V415.6" stroke="#2a2a2a" stroke-width="1.1"/>
<path d="M303.5 407.8V415.6" stroke="#2a2a2a" stroke-width="1.1"/>
<path d="M315.5 407.8V415.6" stroke="#2a2a2a" stroke-width="1.1"/>
<path d="M327.6 407.8V415.6" stroke="#2a2a2a" stroke-width="1.1"/>
<path d="M339.7 407.8V415.6" stroke="#2a2a2a" stroke-width="1.1"/>
<path d="M353.5 407.8H498.0"/>
<path d="M353.5 407.8V415.6M498.0 407.8V415.6" stroke="#2a2a2a" stroke-width="1.1"/>
<path d="M365.6 407.8V415.6" stroke="#2a2a2a" stroke-width="1.1"/>
<path d="M377.6 407.8V415.6" stroke="#2a2a2a" stroke-width="1.1"/>
<path d="M389.7 407.8V415.6" stroke="#2a2a2a" stroke-width="1.1"/>
<path d="M401.7 407.8V415.6" stroke="#2a2a2a" stroke-width="1.1"/>
<path d="M413.8 407.8V415.6" stroke="#2a2a2a" stroke-width="1.1"/>
<path d="M425.9 407.8V415.6" stroke="#2a2a2a" stroke-width="1.1"/>
<path d="M437.9 407.8V415.6" stroke="#2a2a2a" stroke-width="1.1"/>
<path d="M450.0 407.8V415.6" stroke="#2a2a2a" stroke-width="1.1"/>
<path d="M462.0 407.8V415.6" stroke="#2a2a2a" stroke-width="1.1"/>
<path d="M474.1 407.8V415.6" stroke="#2a2a2a" stroke-width="1.1"/>
<path d="M486.2 407.8V415.6" stroke="#2a2a2a" stroke-width="1.1"/>
<path d="M499.8 407.8H644.0"/>
<path d="M499.8 407.8V415.6M644.0 407.8V415.6" stroke="#2a2a2a" stroke-width="1.1"/>
<path d="M511.9 407.8V415.6" stroke="#2a2a2a" stroke-width="1.1"/>
<path d="M523.9 407.8V415.6" stroke="#2a2a2a" stroke-width="1.1"/>
<path d="M536.0 407.8V415.6" stroke="#2a2a2a" stroke-width="1.1"/>
<path d="M548.0 407.8V415.6" stroke="#2a2a2a" stroke-width="1.1"/>
<path d="M560.1 407.8V415.6" stroke="#2a2a2a" stroke-width="1.1"/>
<path d="M572.2 407.8V415.6" stroke="#2a2a2a" stroke-width="1.1"/>
<path d="M584.2 407.8V415.6" stroke="#2a2a2a" stroke-width="1.1"/>
<path d="M596.3 407.8V415.6" stroke="#2a2a2a" stroke-width="1.1"/>
<path d="M608.3 407.8V415.6" stroke="#2a2a2a" stroke-width="1.1"/>
<path d="M620.4 407.8V415.6" stroke="#2a2a2a" stroke-width="1.1"/>
<path d="M632.5 407.8V415.6" stroke="#2a2a2a" stroke-width="1.1"/>
<path d="M646.0 407.8H694.0"/>
<path d="M646.0 407.8V415.6M694.0 407.8V415.6" stroke="#2a2a2a" stroke-width="1.1"/>
<path d="M658.1 407.8V415.6" stroke="#2a2a2a" stroke-width="1.1"/>
<path d="M670.1 407.8V415.6" stroke="#2a2a2a" stroke-width="1.1"/>
<path d="M682.2 407.8V415.6" stroke="#2a2a2a" stroke-width="1.1"/>
</g>
<g font-family="Liberation Sans, Arial, sans-serif" font-size="10.2" fill="#222" text-anchor="middle">
<text transform="translate(35.4 394.6) rotate(-90)">150</text>
<text transform="translate(35.4 353.2) rotate(-90)">200</text>
<text transform="translate(35.4 311.8) rotate(-90)">250</text>
<text transform="translate(35.4 270.4) rotate(-90)">300</text>
<text transform="translate(35.4 229.0) rotate(-90)">350</text>
<text transform="translate(35.4 187.6) rotate(-90)">400</text>
<text transform="translate(35.4 146.2) rotate(-90)">450</text>
</g>
<g font-family="Liberation Sans, Arial, sans-serif" font-size="8" fill="#111" text-anchor="middle">
<text x="60.7" y="424">1</text>
<text x="72.8" y="424">2</text>
<text x="84.8" y="424">3</text>
<text x="96.9" y="424">4</text>
<text x="108.9" y="424">5</text>
<text x="121.0" y="424">6</text>
<text x="133.1" y="424">7</text>
<text x="145.1" y="424">8</text>
<text x="157.2" y="424">9</text>
<text x="169.2" y="424">10</text>
<text x="181.3" y="424">11</text>
<text x="193.4" y="424">12</text>
<text x="207.0" y="424">1</text>
<text x="219.1" y="424">2</text>
<text x="231.1" y="424">3</text>
<text x="243.2" y="424">4</text>
<text x="255.2" y="424">5</text>
<text x="267.3" y="424">6</text>
<text x="279.4" y="424">7</text>
<text x="291.4" y="424">8</text>
<text x="303.5" y="424">9</text>
<text x="315.5" y="424">10</text>
<text x="327.6" y="424">11</text>
<text x="339.7" y="424">12</text>
<text x="353.5" y="424">1</text>
<text x="365.6" y="424">2</text>
<text x="377.6" y="424">3</text>
<text x="389.7" y="424">4</text>
<text x="401.7" y="424">5</text>
<text x="413.8" y="424">6</text>
<text x="425.9" y="424">7</text>
<text x="437.9" y="424">8</text>
<text x="450.0" y="424">9</text>
<text x="462.0" y="424">10</text>
<text x="474.1" y="424">11</text>
<text x="486.2" y="424">12</text>
<text x="499.8" y="424">1</text>
<text x="511.9" y="424">2</text>
<text x="523.9" y="424">3</text>
<text x="536.0" y="424">4</text>
<text x="548.0" y="424">5</text>
<text x="560.1" y="424">6</text>
<text x="572.2" y="424">7</text>
<text x="584.2" y="424">8</text>
<text x="596.3" y="424">9</text>
<text x="608.3" y="424">10</text>
<text x="620.4" y="424">11</text>
<text x="632.5" y="424">12</text>
<text x="646.0" y="424">1</text>
<text x="658.1" y="424">2</text>
<text x="670.1" y="424">3</text>
<text x="682.2" y="424">4</text>
<text x="694.2" y="424">5</text>
</g>
<g font-family="Liberation Sans, Arial, sans-serif" font-size="11.2" font-weight="bold" fill="#111" text-anchor="middle">
<text x="134.7" y="443.4">2016</text>
<text x="281.2" y="443.4">2017</text>
<text x="420.9" y="443.4">2018</text>
<text x="567.2" y="443.4">2019</text>
<text x="670.0" y="443.4">2020</text>
</g>
<defs><clipPath id="yl"><rect x="5.6" y="230" width="12" height="90"/></clipPath></defs>
<g clip-path="url(#yl)"><text transform="translate(12 270.6) rotate(-90)" font-family="Liberation Sans, Arial, sans-serif" font-size="12.5" font-weight="bold" fill="#111" text-anchor="middle">mortalità</text></g>
<path d="M291.3 133.2H310.7" stroke="#e05050" stroke-width="1.4"/>
<path d="M291.3 145.3H310.7" stroke="#151515" stroke-width="1.6"/>
<g font-family="Liberation Sans, Arial, sans-serif" font-size="10.3" fill="#111">
<text x="315" y="137.5">trend mortalità</text>
<text x="315" y="149.6">baseline</text>
<text x="437" y="137.5">mortalità settimanale</text>
<text x="437" y="149.6">Epidemia influenzale</text>
</g>
<rect x="411.8" y="141.7" width="4.5" height="8.3" fill="#ffff33"/>
<rect x="416.0" y="141.7" width="4.5" height="8.3" fill="#ff9a33"/>
<rect x="420.2" y="141.7" width="4.5" height="8.3" fill="#ee1515"/>
<rect x="424.4" y="141.7" width="4.5" height="8.3" fill="#cc0000"/>
<rect x="428.6" y="141.7" width="4.6" height="8.3" fill="#c81414"/>
</svg>
</body></html>
